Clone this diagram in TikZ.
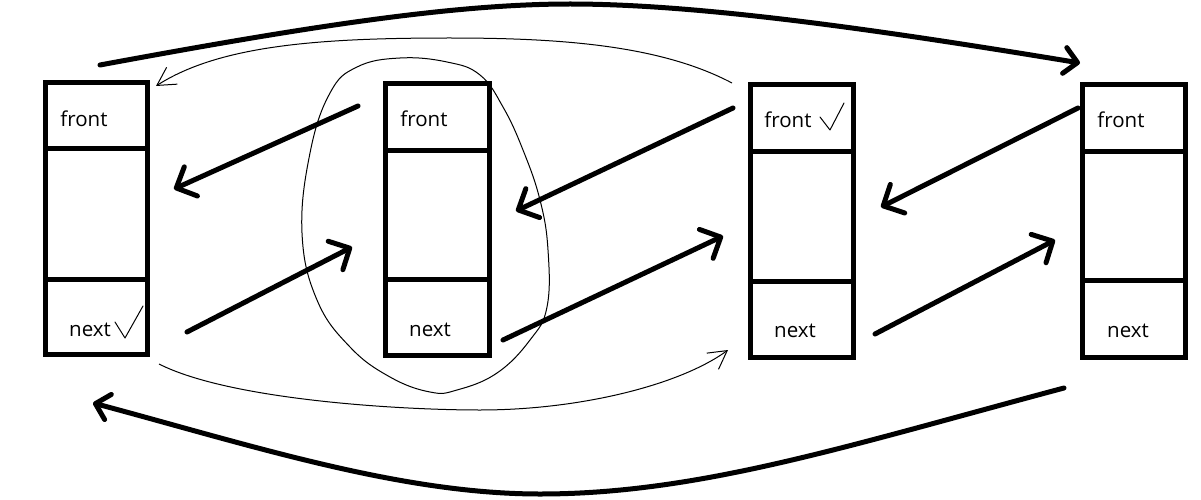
\documentclass[tikz,border=0pt]{standalone}
\usepackage{fontspec}
\setmainfont{Open Sans}
\usetikzlibrary{arrows.meta}
\begin{document}
\begin{tikzpicture}[x=1pt,y=-1pt,
  cell/.style={draw=black,line width=5pt,inner sep=0pt,outer sep=0pt,anchor=north west},
  lbl/.style={anchor=base,inner sep=0pt,font=\fontsize{20.5}{22}\selectfont},
  bigarrow/.style={line width=5pt,line cap=round,-{Straight Barb[length=16pt,width=32pt,round]}},
  arcarrow/.style={line width=5pt,line cap=round,-{Straight Barb[length=13pt,width=26pt,round]}},
  thinarrow/.style={line width=1pt,-{Straight Barb[length=18pt,width=20pt]}},
  thinline/.style={line width=1pt,line join=round,line cap=round}]
\useasboundingbox (0,0) rectangle (1201,500);
\fill[white] (0,0) rectangle (1201,500);
% box 1
\node[cell,minimum width=102pt,minimum height=65.5pt] (b1t) at (45.5,82.5) {};
\node[cell,minimum width=102pt,minimum height=131pt] (b1m) at (45.5,148) {};
\node[cell,minimum width=102pt,minimum height=75.5pt] (b1b) at (45.5,279) {};
% box 2
\node[cell,minimum width=104pt,minimum height=66.5pt] (b2t) at (385.5,83.5) {};
\node[cell,minimum width=104pt,minimum height=129pt] (b2m) at (385.5,150) {};
\node[cell,minimum width=104pt,minimum height=76.5pt] (b2b) at (385.5,279) {};
% box 3
\node[cell,minimum width=103pt,minimum height=66.5pt] (b3t) at (750.5,84.5) {};
\node[cell,minimum width=103pt,minimum height=130pt] (b3m) at (750.5,151) {};
\node[cell,minimum width=103pt,minimum height=76.5pt] (b3b) at (750.5,281) {};
% box 4
\node[cell,minimum width=103pt,minimum height=66.5pt] (b4t) at (1082.5,84.5) {};
\node[cell,minimum width=103pt,minimum height=129pt] (b4m) at (1082.5,151) {};
\node[cell,minimum width=103pt,minimum height=77.5pt] (b4b) at (1082.5,280) {};
% labels
\node[lbl] (f1) at (84,127) {front};
\node[lbl] (n1) at (90,336) {next};
\node[lbl] (f2) at (424,127) {front};
\node[lbl] (n2) at (430,336) {next};
\node[lbl] (f3) at (788,128) {front};
\node[lbl] (n3) at (795,337) {next};
\node[lbl] (f4) at (1121,128) {front};
\node[lbl] (n4) at (1128,337) {next};
% check marks
\draw[thinline] (115,322) -- (125,338) -- (143,306);
\draw[thinline] (820,117) -- (830,130) -- (844,103);
% arrow end points
\coordinate (a1s) at (358,106); \coordinate (a1e) at (174,189);
\coordinate (a2s) at (187,332); \coordinate (a2e) at (352,247);
\coordinate (a3s) at (733,108); \coordinate (a3e) at (516,211);
\coordinate (a4s) at (503,340); \coordinate (a4e) at (723,236);
\coordinate (a5s) at (1078,108); \coordinate (a5e) at (881,207);
\coordinate (a6s) at (875,334); \coordinate (a6e) at (1055,240);
\coordinate (tops) at (100,65); \coordinate (topm) at (570,4); \coordinate (tope) at (1080,63);
\coordinate (bots) at (1064,388); \coordinate (botm) at (540,494); \coordinate (bote) at (93,403);
\coordinate (ts) at (732,83); \coordinate (tm) at (450,38); \coordinate (te) at (156,86);
\coordinate (ls) at (159,364); \coordinate (lm) at (480,410); \coordinate (le) at (728,350);
% straight thick arrows
\draw[bigarrow] (a1s) -- (a1e);
\draw[bigarrow] (a2s) -- (a2e);
\draw[bigarrow] (a3s) -- (a3e);
\draw[bigarrow] (a4s) -- (a4e);
\draw[bigarrow] (a5s) -- (a5e);
\draw[bigarrow] (a6s) -- (a6e);
% big arcs
\draw[arcarrow] (tops) .. controls (300,28) and (450,4) .. (topm) .. controls (700,4) and (880,30) .. (tope);
\draw[arcarrow] (bots) .. controls (850,445) and (700,494) .. (botm) .. controls (400,494) and (250,445) .. (bote);
% thin arcs
\draw[thinarrow] (ts) .. controls (660,45) and (560,38) .. (tm) .. controls (320,38) and (220,45) .. (te);
\draw[thinarrow] (ls) .. controls (230,400) and (400,410) .. (lm) .. controls (580,410) and (680,385) .. (le);
% loop around box 2
\draw[thinline] plot[smooth cycle,tension=0.7] coordinates {(400,58) (447,62) (480,75) (503,107) (523,150) (540,200) (548,250) (547,307) (530,340) (497,373) (457,390) (430,392) (390,377) (350,347) (317,300) (302,233) (310,153) (330,93) (357,67)};
\end{tikzpicture}
\end{document}
